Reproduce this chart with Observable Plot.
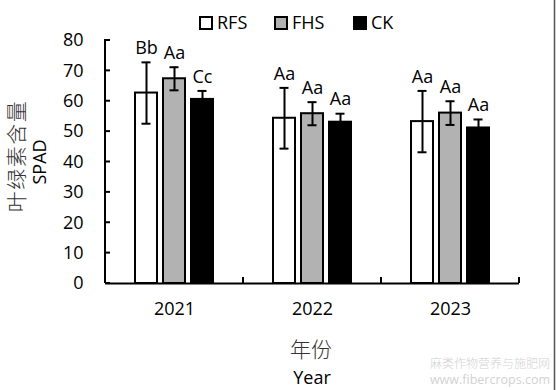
<!DOCTYPE html>
<html><head><meta charset="utf-8">
<script src="https://cdn.jsdelivr.net/npm/d3@7"></script>
<script src="https://cdn.jsdelivr.net/npm/@observablehq/plot@0.6"></script>
<style>body{margin:0;background:#fff} #chart{position:relative;width:556px;height:390px}</style>
</head><body><div id="chart"></div>
<script>
const years = ["2021", "2022", "2023"];
const treatments = ["RFS", "FHS", "CK"];
const rfsMean = [62.7, 54.4, 53.3];
const rfsSD = [10.1, 10.0, 10.1];
const fhsMean = [67.4, 55.9, 56.1];
const fhsSD = [3.8, 3.8, 3.9];
const ckMean = [60.6, 53.1, 51.2];
const ckSD = [2.8, 2.8, 2.8];
const rfsSig = ["Bb", "Aa", "Aa"];
const fhsSig = ["Aa", "Aa", "Aa"];
const ckSig = ["Cc", "Aa", "Aa"];
const yTicks = [0, 10, 20, 30, 40, 50, 60, 70, 80];
const fills = ["#ffffff", "#b2b2b2", "#000000"];

const means = [rfsMean, fhsMean, ckMean];
const sds = [rfsSD, fhsSD, ckSD];
const sigs = [rfsSig, fhsSig, ckSig];
const rows = [];
treatments.forEach((t, i) => years.forEach((y, j) => rows.push({year: y, trt: t, mean: means[i][j], sd: sds[i][j], sig: sigs[i][j]})));

const font = "'Open Sans', sans-serif";
const chart = Plot.plot({
  width: 556, height: 390,
  marginLeft: 105, marginRight: 37, marginTop: 40, marginBottom: 107,
  style: {fontFamily: font, fontSize: "18px", color: "#000", background: "#fff", overflow: "visible"},
  fx: {domain: years, padding: 0, label: null, axis: null},
  x: {domain: treatments, paddingInner: 0.207, paddingOuter: 0.983, axis: null},
  y: {domain: [0, 80], label: null},
  color: {domain: treatments, range: fills},
  marks: [
    Plot.barY(rows, {fx: "year", x: "trt", y: "mean", fill: "trt", stroke: "#000", strokeWidth: 2}),
    Plot.ruleX(rows, {fx: "year", x: "trt", y1: d => d.mean - d.sd, y2: d => d.mean + d.sd, stroke: "#000", strokeWidth: 2}),
    Plot.tickY(rows, {fx: "year", x: "trt", y: d => d.mean + d.sd, stroke: "#000", strokeWidth: 2, insetLeft: 6.5, insetRight: 6.5}),
    Plot.tickY(rows, {fx: "year", x: "trt", y: d => d.mean - d.sd, stroke: "#000", strokeWidth: 2, insetLeft: 6.5, insetRight: 6.5}),
    Plot.text(rows, {fx: "year", x: "trt", y: d => d.mean + d.sd, text: "sig", dy: -14, fontSize: 18, fontFamily: font}),
    Plot.ruleY([0], {stroke: "#000", strokeWidth: 2}),
    Plot.axisY({ticks: yTicks, tickSize: 0, tickPadding: 22, label: null, fontSize: 18}),
    Plot.axisFx({anchor: "bottom", tickSize: 0, tickPadding: 19, label: null, fontSize: 18})
  ]
});
document.getElementById("chart").appendChild(chart);

const svg = d3.select(chart);
const ys = chart.scale("y");
const fxs = chart.scale("fx");
const x0 = fxs.apply(years[0]);
// y axis line and inward ticks
svg.append("line").attr("x1", x0).attr("x2", x0).attr("y1", ys.apply(80) - 1).attr("y2", ys.apply(0))
  .attr("stroke", "#000").attr("stroke-width", 2);
yTicks.forEach(v => svg.append("line").attr("x1", x0).attr("x2", x0 + 5).attr("y1", ys.apply(v)).attr("y2", ys.apply(v))
  .attr("stroke", "#000").attr("stroke-width", 2));
// category boundary ticks
years.forEach(y => {
  const xb = fxs.apply(y) + fxs.bandwidth;
  svg.append("line").attr("x1", xb).attr("x2", xb).attr("y1", ys.apply(0)).attr("y2", ys.apply(0) - 6)
    .attr("stroke", "#000").attr("stroke-width", 2);
});
// legend
const legX = [200, 275, 354];
treatments.forEach((t, i) => {
  svg.append("rect").attr("x", legX[i]).attr("y", 17).attr("width", 12).attr("height", 12)
    .attr("fill", fills[i]).attr("stroke", "#000").attr("stroke-width", 2);
  svg.append("text").attr("x", legX[i] + 17).attr("y", 23).attr("dy", "0.35em").attr("font-size", 18)
    .attr("text-anchor", "start").attr("font-family", font).attr("fill", "#000").text(t);
});
// axis titles
svg.append("text").attr("transform", "translate(24,156) rotate(-90)").attr("text-anchor", "middle")
  .attr("font-family", "'Noto Sans CJK SC', sans-serif").attr("font-weight", 300).attr("font-size", 21)
  .attr("letter-spacing", "1.5px").attr("fill", "#333").text("叶绿素含量");
svg.append("text").attr("transform", "translate(46,162) rotate(-90)").attr("text-anchor", "middle")
  .attr("font-family", font).attr("font-size", 18).attr("fill", "#000").text("SPAD");
svg.append("text").attr("x", 311).attr("y", 350).attr("dy", "0.35em").attr("text-anchor", "middle")
  .attr("font-family", "'Noto Sans CJK SC', sans-serif").attr("font-weight", 300).attr("font-size", 21)
  .attr("fill", "#333").text("年份");
svg.append("text").attr("x", 312).attr("y", 378).attr("dy", "0.35em").attr("text-anchor", "middle")
  .attr("font-family", font).attr("font-size", 18).attr("fill", "#000").text("Year");
// watermark
svg.append("text").attr("x", 550).attr("y", 364).attr("dy", "0.35em").attr("text-anchor", "end")
  .attr("font-family", "'Noto Sans CJK SC', sans-serif").attr("font-weight", 300).attr("font-size", 12)
  .attr("fill", "#d2d2d2").text("麻类作物营养与施肥网");
svg.append("text").attr("x", 550).attr("y", 380).attr("dy", "0.35em").attr("text-anchor", "end")
  .attr("font-family", font).attr("font-size", 12.5).attr("fill", "#d2d2d2").text("www.fibercrops.com");
// right border
svg.append("line").attr("x1", 554.5).attr("x2", 554.5).attr("y1", 0).attr("y2", 390)
  .attr("stroke", "#555").attr("stroke-width", 1.5);
</script></body></html>
